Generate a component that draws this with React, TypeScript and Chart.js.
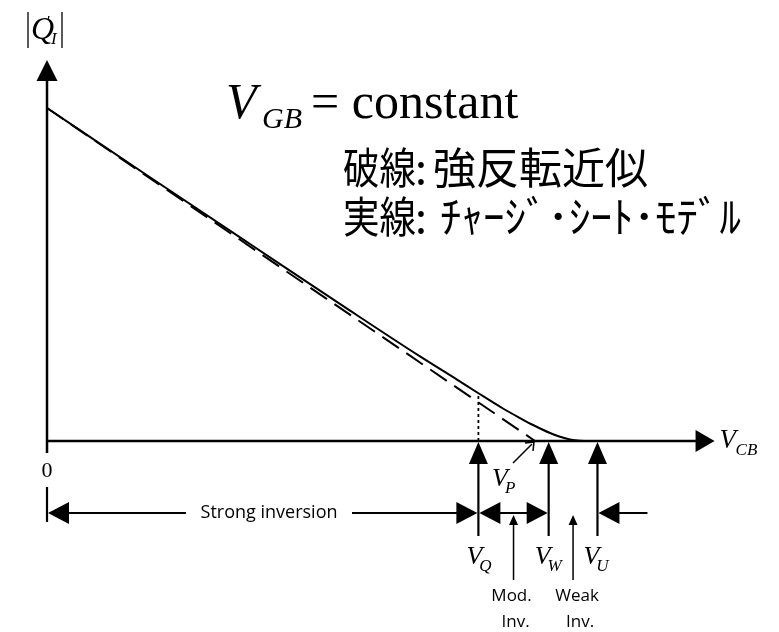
import { useEffect, useRef } from "react";
import { Chart, registerables } from "chart.js";

Chart.register(...registerables);

// Charge-sheet model: |Q'_I| against V_CB (arbitrary units, V_P = 5)
const sheetVcb = [0, 1.055, 2.08, 3.105, 3.822, 4.201, 4.416, 4.672, 4.846, 4.98, 5.154, 5.256, 5.359, 5.46, 5.615];
const sheetQ = [5.0, 3.961, 2.958, 1.958, 1.27, 0.922, 0.721, 0.488, 0.345, 0.24, 0.12, 0.063, 0.023, 0.005, 0];

// Strong-inversion approximation: straight line reaching zero at V_P
const strongVcb = [0, 5.0];
const strongQ = [5.0, 0];

// Characteristic voltages marked on the V_CB axis
const markerNames = ["Q", "P", "W", "U"];
const markerVcb = [4.42, 5.0, 5.14, 5.64];

// Axis extents (arrow tips) in data units
const xAxisEnd = 6.84;
const yAxisEnd = 5.72;

// Visible window of the scales
const X_MIN = -0.4816;
const X_MAX = 7.5;
const Y_MIN = -2.868;
const Y_MAX = 6.622;

const SERIF = "'Liberation Serif', 'Times New Roman', serif";
const SANS = "'Open Sans', 'Noto Sans', sans-serif";
const CJK = "'Noto Sans CJK JP', 'Noto Sans CJK SC', sans-serif";

function qAt(v: number): number {
  for (let i = 1; i < sheetVcb.length; i++) {
    if (v <= sheetVcb[i]) {
      const t = (v - sheetVcb[i - 1]) / (sheetVcb[i] - sheetVcb[i - 1]);
      return sheetQ[i - 1] + t * (sheetQ[i] - sheetQ[i - 1]);
    }
  }
  return 0;
}

function marker(name: string): number {
  return markerVcb[markerNames.indexOf(name)];
}

const diagramPlugin = {
  id: "diagram",
  afterDatasetsDraw(chart: any) {
    const { ctx } = chart;
    const sx = chart.scales.x;
    const sy = chart.scales.y;
    const X = (v: number) => sx.getPixelForValue(v);
    const Y = (v: number) => sy.getPixelForValue(v);
    const ox = X(0);
    const oy = Y(0);

    const line = (x1: number, y1: number, x2: number, y2: number, w = 2, dash: number[] = []) => {
      ctx.save();
      ctx.lineWidth = w;
      ctx.setLineDash(dash);
      ctx.beginPath();
      ctx.moveTo(x1, y1);
      ctx.lineTo(x2, y2);
      ctx.stroke();
      ctx.restore();
    };
    // filled triangular head with its tip at (tx, ty), pointing along (dx, dy)
    const head = (tx: number, ty: number, dx: number, dy: number, len = 21, hw = 10) => {
      const n = Math.hypot(dx, dy);
      const ux = dx / n;
      const uy = dy / n;
      const bx = tx - ux * len;
      const by = ty - uy * len;
      ctx.beginPath();
      ctx.moveTo(tx, ty);
      ctx.lineTo(bx - uy * hw, by + ux * hw);
      ctx.lineTo(bx + uy * hw, by - ux * hw);
      ctx.closePath();
      ctx.fill();
    };
    const text = (s: string, x: number, y: number, font: string, align: CanvasTextAlign = "left", base: CanvasTextBaseline = "alphabetic", maxW?: number) => {
      ctx.font = font;
      ctx.textAlign = align;
      ctx.textBaseline = base;
      if (maxW) ctx.fillText(s, x, y, maxW);
      else ctx.fillText(s, x, y);
    };
    const vLabel = (sub: string, x: number, y: number) => {
      text("V", x, y, `italic 26px ${SERIF}`);
      ctx.font = `italic 26px ${SERIF}`;
      const w = ctx.measureText("V").width;
      text(sub, x + w - 3, y + 7, `italic 17px ${SERIF}`);
    };

    ctx.save();
    ctx.fillStyle = "#000";
    ctx.strokeStyle = "#000";

    // vertical axis |Q'_I|
    const yTip = Y(yAxisEnd);
    line(ox, oy + 12, ox, yTip + 18, 2.5);
    head(ox, yTip, 0, -1, 21, 10.5);

    // horizontal axis V_CB
    const xTip = X(xAxisEnd);
    line(ox, oy, xTip - 16, oy, 2.5);
    head(xTip, oy, 1, 0, 19, 11);

    // axis titles
    line(28, 12, 28, 48, 1.3);
    line(62, 12, 62, 48, 1.3);
    text("Q", 31, 39, `italic 32px ${SERIF}`);
    text("I", 51, 44, `italic 17px ${SERIF}`);
    text("'", 46, 27, `italic 16px ${SERIF}`);
    text("V", xTip + 5, oy + 7, `italic 27px ${SERIF}`);
    text("CB", xTip + 21, oy + 14, `italic 17px ${SERIF}`);
    text("0", ox, oy + 30, `22px ${SERIF}`, "center", "middle");

    // condition and legend text
    text("V", 226, 118, `italic 50px ${SERIF}`);
    text("GB", 262, 128, `italic 30px ${SERIF}`);
    text("= constant", 311, 118, `50px ${SERIF}`);
    const jp = `43px ${CJK}`;
    text("破線", 343, 168, jp, "left", "middle", 73);
    text(":", 415, 168, jp, "left", "middle");
    text("強反転近似", 433, 168, jp, "left", "middle", 228);
    text("実線", 343, 217, jp, "left", "middle", 73);
    text(":", 415, 217, jp, "left", "middle");
    text("ﾁｬｰｼﾞ･ｼｰﾄ･ﾓﾃﾞﾙ", 440, 217, jp, "left", "middle", 312);

    const xq = X(marker("Q"));
    const xp = X(marker("P"));
    const xw = X(marker("W"));
    const xu = X(marker("U"));

    // dotted drop line from the curve at V_Q
    line(xq, oy, xq, Y(qAt(marker("Q"))), 1.8, [3, 3]);

    // upward marker arrows for V_Q, V_W, V_U
    for (const xm of [xq, xw, xu]) {
      line(xm, oy + 20, xm, oy + 95, 2.2);
      head(xm, oy + 1, 0, -1, 22, 9.5);
    }
    vLabel("Q", xq - 12, oy + 123);
    vLabel("W", xw - 14, oy + 123);
    vLabel("U", xu - 14, oy + 123);

    // V_P pointer
    line(xp - 22, oy + 22, xp - 3, oy + 3, 1.5);
    ctx.lineWidth = 1.5;
    ctx.beginPath();
    ctx.moveTo(xp - 10, oy + 2);
    ctx.lineTo(xp - 1, oy + 1);
    ctx.lineTo(xp - 2, oy + 10);
    ctx.stroke();
    vLabel("P", xp - 43, oy + 45);

    // region bounds row
    const ry = oy + 72;
    line(ox, oy + 46, ox, oy + 81, 2.2);
    head(ox + 1, ry, -1, 0, 21, 11);
    line(ox + 18, ry, 186, ry, 2.2);
    text("Strong inversion", 269, ry, `18px ${SANS}`, "center", "middle", 146);
    line(352, ry, xq - 18, ry, 2.2);
    head(xq - 1, ry, 1, 0, 21, 11);
    head(xq + 1, ry, -1, 0, 21, 11);
    line(xq + 18, ry, xw - 18, ry, 2.2);
    head(xw - 1, ry, 1, 0, 21, 11);
    head(xu + 1, ry, -1, 0, 21, 11);
    line(xu + 18, ry, xu + 50, ry, 2.2);

    // moderate and weak inversion pointers
    const xm = (xq + xw) / 2;
    const xwk = (xw + xu) / 2;
    for (const xa of [xm, xwk]) {
      line(xa, oy + 82, xa, oy + 139, 1.5);
      head(xa, oy + 74, 0, -1, 10, 4.5);
    }
    text("Mod.", xm - 2, oy + 155, `17px ${SANS}`, "center", "middle");
    text("Inv.", xm + 2, oy + 181, `17px ${SANS}`, "center", "middle");
    text("Weak", xwk + 4, oy + 155, `17px ${SANS}`, "center", "middle");
    text("Inv.", xwk + 7, oy + 181, `17px ${SANS}`, "center", "middle");

    ctx.restore();
  },
};

export default function App() {
  const canvasRef = useRef<HTMLCanvasElement | null>(null);

  useEffect(() => {
    const canvas = canvasRef.current;
    if (!canvas) return;
    const chart = new Chart(canvas, {
      type: "scatter",
      data: {
        datasets: [
          {
            label: "チャージ・シート・モデル",
            data: sheetVcb.map((v, i) => ({ x: v, y: sheetQ[i] })),
            showLine: true,
            borderColor: "#000",
            borderWidth: 2,
            pointRadius: 0,
            cubicInterpolationMode: "monotone",
            fill: false,
          },
          {
            label: "強反転近似",
            data: strongVcb.map((v, i) => ({ x: v, y: strongQ[i] })),
            showLine: true,
            borderColor: "#000",
            borderWidth: 2,
            borderDash: [20, 9],
            pointRadius: 0,
            fill: false,
          },
        ],
      },
      options: {
        responsive: false,
        animation: false,
        events: [],
        layout: { padding: 0 },
        plugins: { legend: { display: false }, tooltip: { enabled: false } },
        scales: {
          x: { type: "linear", min: X_MIN, max: X_MAX, display: false },
          y: { type: "linear", min: Y_MIN, max: Y_MAX, display: false },
        },
      },
      plugins: [diagramPlugin],
    });
    return () => chart.destroy();
  }, []);

  return (
    <div style={{ position: "fixed", left: 0, top: 0, width: 779, height: 632, background: "#fff" }}>
      <canvas ref={canvasRef} width={779} height={632} />
    </div>
  );
}
